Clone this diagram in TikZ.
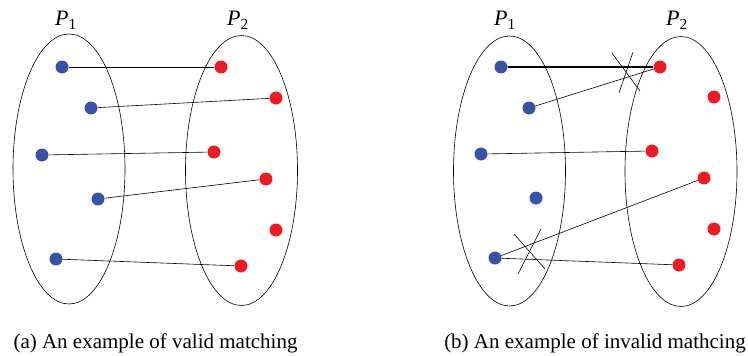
\documentclass[tikz,border=0pt]{standalone}
\usepackage{fontspec}
\setmainfont{Liberation Serif}
\usepackage{tikz}
\usetikzlibrary{shapes.geometric}
\definecolor{MBlue}{HTML}{3953A4}
\definecolor{MRed}{HTML}{ED1C24}
\tikzset{
  part/.style={draw,ellipse,line width=0.6pt,minimum width=112pt,minimum height=270pt},
  lnode/.style={circle,fill=MBlue,inner sep=0pt,minimum size=13pt},
  rnode/.style={circle,fill=MRed,inner sep=0pt,minimum size=13pt},
  match/.style={line width=0.6pt},
  bad/.style={line width=1.1pt},
  strike/.style={line width=0.6pt},
  setlabel/.style={font=\fontsize{22}{26}\selectfont,anchor=base},
  caption/.style={font=\fontsize{21}{25}\selectfont,anchor=base},
}

\begin{document}
\begin{tikzpicture}[x=1pt,y=-1pt]
    \useasboundingbox (0,0) rectangle (748,356);

    % (a) valid matching
    \node[part] (A1) at (69,169) {};
    \node[part] (A2) at (241.5,170.5) {};
    \node[setlabel] (la1) at (66,26) {\textit{P}\textsubscript{1}};
    \node[setlabel] (la2) at (238,26) {\textit{P}\textsubscript{2}};

    \node[lnode] (ab1) at (62,67) {};
    \node[lnode] (ab2) at (91,108) {};
    \node[lnode] (ab3) at (42,155) {};
    \node[lnode] (ab4) at (98,199) {};
    \node[lnode] (ab5) at (56,259) {};
    \node[rnode] (ar1) at (221,67) {};
    \node[rnode] (ar2) at (276,98) {};
    \node[rnode] (ar3) at (214,152) {};
    \node[rnode] (ar4) at (266,179) {};
    \node[rnode] (ar5) at (276,230) {};
    \node[rnode] (ar6) at (241,266) {};

    \draw[match] (ab1)--(ar1);
    \draw[match] (ab2)--(ar2);
    \draw[match] (ab3)--(ar3);
    \draw[match] (ab4)--(ar4);
    \draw[match] (ab5)--(ar6);

    \node[caption] (capa) at (155.5,348) {(a) An example of valid matching};

    % (b) invalid matching
    \node[part] (B1) at (509.5,171) {};
    \node[part] (B2) at (681,171.5) {};
    \node[setlabel] (lb1) at (505,26) {\textit{P}\textsubscript{1}};
    \node[setlabel] (lb2) at (677,26) {\textit{P}\textsubscript{2}};

    \node[lnode] (bb1) at (501,67) {};
    \node[lnode] (bb2) at (529,108) {};
    \node[lnode] (bb3) at (481,154) {};
    \node[lnode] (bb4) at (536,198) {};
    \node[lnode] (bb5) at (495,258) {};
    \node[rnode] (br1) at (660,67) {};
    \node[rnode] (br2) at (714,97) {};
    \node[rnode] (br3) at (652,151) {};
    \node[rnode] (br4) at (704,178) {};
    \node[rnode] (br5) at (714,229) {};
    \node[rnode] (br6) at (679,265) {};

    \draw[bad] (bb1)--(br1);
    \draw[match] (bb2)--(br1);
    \draw[match] (bb3)--(br3);
    \draw[match] (bb5)--(br4);
    \draw[match] (bb5)--(br6);

    % crossed out pairs
    \draw[strike] (612,53)--(640,91);
    \draw[strike] (633,52)--(619,93);
    \draw[strike] (514,234)--(545,269);
    \draw[strike] (541,229)--(518,274);

    \node[caption] (capb) at (595,348) {(b) An example of invalid mathcing};
  \end{tikzpicture}
\end{document}
